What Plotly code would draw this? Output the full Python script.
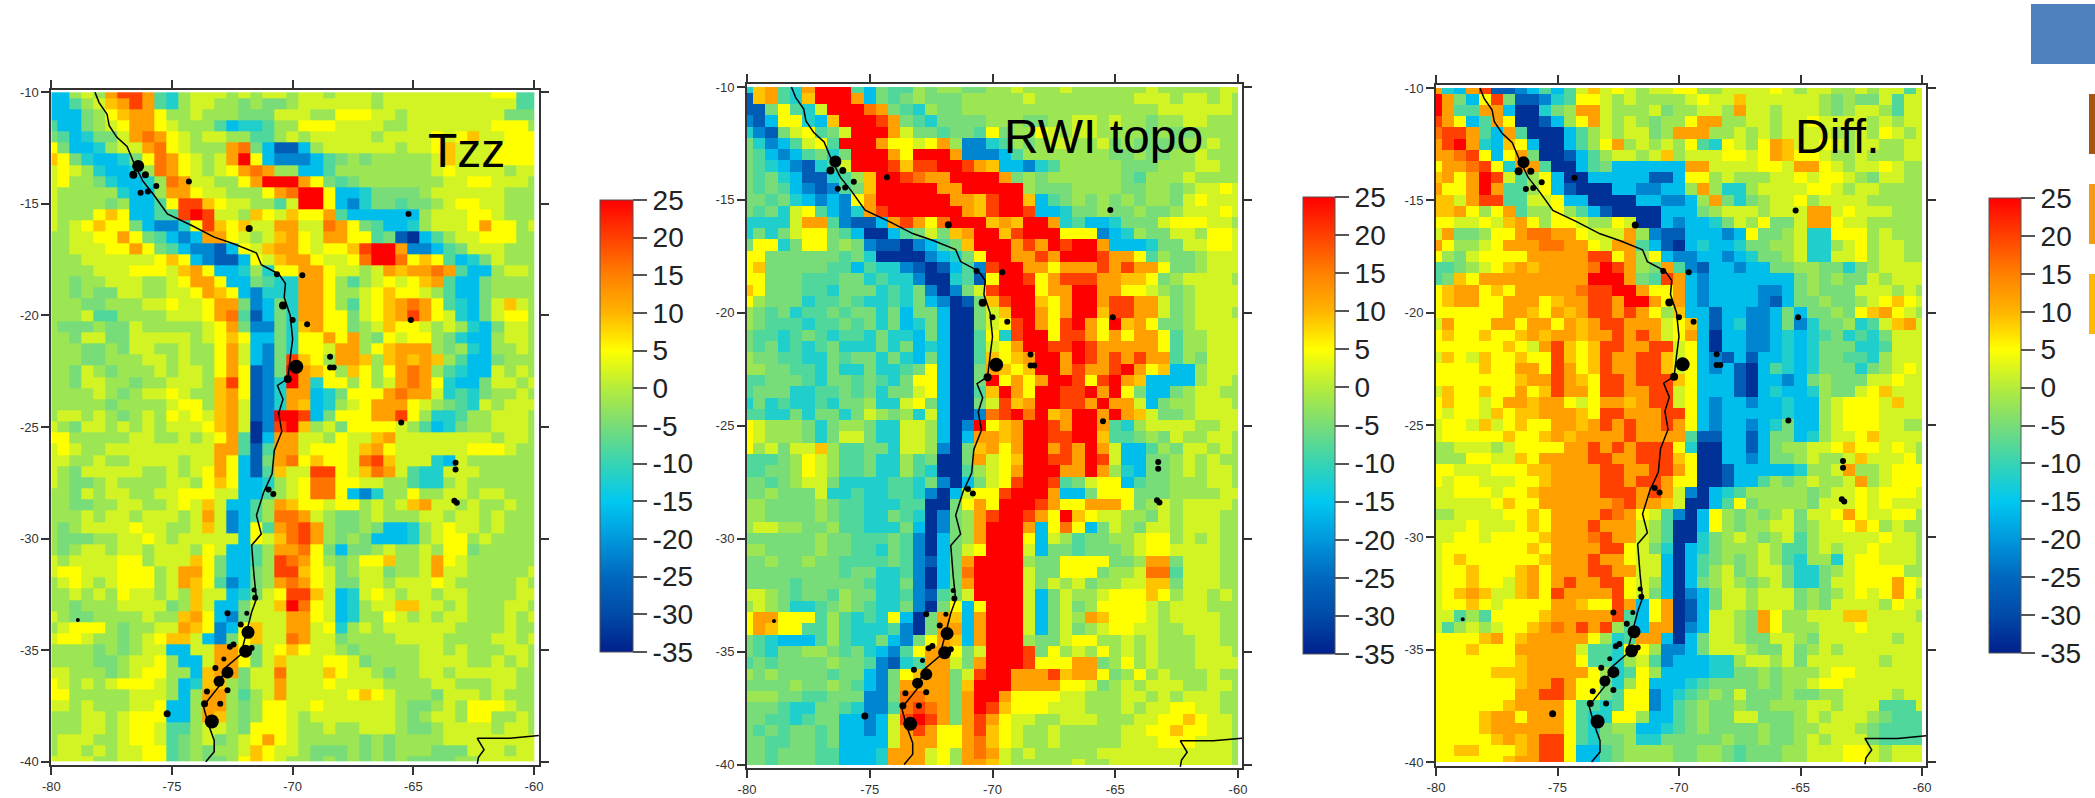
import plotly.graph_objects as go

W, H = 2095, 798
CODE = {'D':-33,'B':-27,'b':-22,'C':-16,'c':-12,'t':-8,'g':-5,'.':-2,'y':2,'Y':5,'o':9,'O':12,'r':16,'R':20,'X':25}

TZZ_ROWS = [
"CC.y.ORROt c.yyy.y.yy .yy.yyy.yy yyyyyyyYYtt",
"CCt.yoOROt c.yy..g.gg .yyyyyy.yy yyyyyyyyytt",
"CCCg.YoOOY ..y...gggy yy..YYYyy. yyyyyyyyggg",
"tCCg.yYOOY y...tCcct. .YYYyyyy.. yyyyyyyYYY.",
"gtCcggyOrO Yy.yy..tt. y.yyyyy.yy yyYyYoyyYYY",
"YgCCc.yyOr Yy...OrgCB BC.yyyyyy. yyYoyyyYYYY",
"oYgcCCcgYr OYy.yOXYCb bbCtg.g... ..yoyyyYYYY",
"yYy.cCCc.r OYy.yYOrO. .CCt...... ..yYyyyy.yy",
"yY..gcCCc. rOyy..YOXX XOYgtg.... ...yyYYyyy.",
"y.....cCC. OOYyy...YO rXXYCCcggg g.yyyyyy...",
"y....g.CCt YRRoYyy..t yXXYCbcggt gg.yYYyy...",
"y...YoYCCt tRXRyy.oYy oYYOtCCCCC C.yyyYYy...",
"y.yYoYYgCb bcYRoYoyyO OyyrOYgtCC c.yyyYOYY.y",
"..yyYYOYgt CbCOOYy.yo OYyOOYYtgB DCt.yyYYY..",
"..yyyYYOYg tCbbBCYyoO OYyYYoRXXO bbCtgyyy...",
"...yyyyyyY oYCbBBCYyo OOYyyYrXXr YoYtCcgy...",
"....yyyYYY yoOYCCc.cY YOOYyy.yOo OOrOtCC.yy.",
"..g..yyy.. yYOOYCCgtc cOOY.t.yYy YoOtCCg....",
"..g.ggyy.. yyYOoYCbcc cOOY..yYoY Yy.tCCg....",
"...gg...yy YyyYOOgbCg cOOY.tyYoO rOYtcCgyoy.",
"...ytt.... yyyYOrtBCg cOOYYgyYoO ROYycCgyYY.",
".ggg.ggy.. ...yYOgbbg coOYYg.yoY Yy.y.cCgyy.",
"..gyyggyyy yy.yYoYCCg cYYOYO.gYy YY.gcCC.yy.",
"...gg.gyy. .y..YOyCbg cYYyOO.YoO OO.g.cC..y.",
"...gg...yy .y..YOyCbg RoY.OOo.oO oOo.tCCg...",
"..gy.g...y .yy.YOYBbg XOoY.oY.YO rO.tcCCy.y.",
"..gyy..g.. yyy.oRYBbc XOcYY.Y.yO rOYcCCgyy.y",
"....y.g.yy Yy..oOYBbc OOCcgYYYOr OOyctcg..y.",
".....g.... yYY.oOyBbc OoCc.yYOOO Yy.gtcy.yyy",
".yy.y.g.y. YyYyoOyBbX XRCgYYYOOR Y.cct..yyy.",
"y.gyy.y.y. yyyYoOyDbR Xo.ygYYYYy .tCcg..yyy.",
"YY.....yy. .y.yYOtDCO Oyy.YyyoOy yyyyyyy.yy.",
"yYy..yyyyy yyyyOOtBtO OyYYYyoOYy yyyyyYYYy..",
"yy..y..yyy y.yyOYCBgO rYoYYyrRoy yycCy......",
"y.gyyyyy.. y.yYOYCBto yyRRYyorOy tccyyy.....",
"y.gg.y.... yy.YoYCCc. yYrrYYyy.. tcc.y......",
"..gy.yy..y yYYYyyCCt. yYrrYCbc.. Y..yy.yy...",
"..gg..yy.. yYyoyCCt.O oYYyYY.y.y oOyy.y..y..",
"...y.yy.yy y.yOybCt.r rOy.gg.y.. .yy.yy.y...",
".g.yyyyYyy ..yoybCYtO rRO.gg.gCC c.yYyy.y...",
".ggg..yyYy .yyyyyCYyo rRO.g.gCCC c.yYY.y....",
".g.yy.yy.y yy.YyCCt.O OrYgCgg.y. .y.YYg.....",
"y.yyyyYY.y yyoYgCCt.R rOY.g.YYo. .yOYy......",
"yYYyyyYYY. yOOYgCCg.R RoYyg.yyg. .yOyy.....y",
".yYy.yYYY. yOoYtbCg.O rOYyggyy.y yyYy.....y.",
"..y.y.Yyy. y.oyyCcgyY RRoyCcyYy. yy.yy....yy",
"..g...yyyy g.oyCCgyyo XrYyCc.yyo oyy.y...yy.",
"y.gg....y. .oOYCbgyyy OOYyCc..Yy .y.yy...y.y",
".yYYY.g..y yOoYbCYoyy OOyYc.y.yy yyyy....y..",
"yYYy..g.yY ooyCbgYoyy rOyyg....y yyy....yy.y",
"....g.g.yy CCyyOOYgyY oYyy.g.... .yy.y...yy.",
"....gg.yyY .CCyOOYgyo yyyYYyg... .yyyy..y.y.",
"yy...g.yYY ..CoOOgyyr yyyoYyy.g. .yy.yyyyy..",
"Yy.y.yYYYy .Ccoo.gyyO yyyYyyyy.. ..yy...yy..",
"YY.....yyy .C.OO.t.yO yyyyyYoYy. ..gyyy.y...",
"yy.y...yyY CC.OO.g.YY yyYyyyyyy. gg.y.YYYy..",
"...yy.yYYY CC.Oo.g.YY y.yyyyyyy. g.yy.YY..y.",
"...yy.yYYy tt.yy.gYYY y..y..yyy. gg.yyyy.yy.",
".yyy..yYYy tg.yg.yYOY y.....g.g. ...yyyyyyyy",
".yy.y.yyYY tg.g..yoYy y.ggg.g.g. ..gggyyy.yy",
"yyyy..yyYY tg.gg.YoYy ..g.g.g.g. gggg..yyyyy",
"yyyyyYYYy. tg.y.yYoYy yy.yy.y.yy y..y.yYyyyy",
]

RWI_ROWS = [
"coOtcOXXXt Cgtt.g..gg ..y...y... ...y.....yy.",
"BoOtcoXXXO Cgtg.ggg.. ...y...... ..yyy.yy.y.",
"BBgYtcyXXX rOgtc.gg.. .......... ....yyyyyy.",
"bBCYYcCoXX XROgtcgggg ...gg..yy. y..g..yy...",
"cbBgyYtgyX XXOyggtggt Yg..Yy.yy. ...g.gg....",
"gcbCtyYtXX XOYYyYO.bb ct.g.yy..y g.gggg..y..",
"gtCbCtgcgX XXOYXXXObb bCt....... gg.gg..y...",
"gtcCbBctyX XXRoRRXXRO oCCbct.... .ggg...yy..",
"gtgcCBBct. oXXRrOOXXX XOg.g..... .gt...y....",
"gtgtCbBbtg oXXXXXOOXX XXX.ggg... .gg..g.yyYy",
"ggtgcCbCbY OXXXXXXOOo RXXoCtg.g. g.g..gyYyyy",
"gtgcyYtCbc ORXXXXXXOo RXXRCCcgg. gg.gg.yyyYy",
"ccccyOOtbB BCOROYrXXX oOoXXOctCC cgggyYYYyy.",
"cgcgyYYgtC DDCtgygoOX XoRXXXYYYb Cc.ggyy.YYy",
"gYYcgYYg.g bBBDbCtgoX XXOROXRXXO CCCcggyyYYy",
"YYggggggtg cDDDDbCcgY XXOOROXXXR OOYt.gg.yyy",
"YogggggttC tccbBDBCtb RXXOOYOOOR OROOYgg.yyy",
"YYgggtttgg ctccbDDctB YXXRYORRRO OooYg.yyyy.",
"oYgggttcgg gctcgbDbgy RXXXYOOXXO OYYy.g.yyyy",
"Y.gggcttgt cctcgCbDBg oRXXoYOXXO RROOyg.yyyy",
".gtgcttgtg gcgCggCDDg yoXXOYOXXo RROOyg.yyy.",
".gtttcttgt gcgCcgCDDg yYRXOYRXOY XoOYgg.yyyy",
"gttctgtctt cgccCgCDDt YcRXXYRROY OYOOYt..yyy",
"gtgctctgcc cgcgCcCDDt yYOXXRRXRO OOOOYt..yyy",
".ggttccgtg gcgcCgCDDt oYoOXXOXRO ROROOt.gyyy",
"..ggttcgcc gcctgYCDDg OoYoXXOROO RXOYoCC.yyy",
"ttgggtcggt gtcgYYCDDg XYOYOXXRYR XOoCCCC.yy.",
"tgggccttgt gcggyYCDDt oXOYXXRRXO XYgCCg.yy..",
"cgctcctcgg .ccyYgCDDg yRoOXXRROX OOyCg..yyy.",
"ttccgcggcg y.g.cyCDDb rRXrXoOXXO XOoygg.yyyy",
"Yy...gcg.. gccyy.CDbX YoOXXROXXO tc.yyyy..yy",
"Yy...gcgyy gccyy.CDCO OoOXXRRXXo ttg.gy..yy.",
"Y.ygyyo.tt ggcyy.bDgo OYOXXOROXO yCCt.gyy.y.",
"tttg.Yy.tt gcc.tgDDgO yYoXXRROXR yCCgg.y.y..",
"ttgg.Yy.tt gcc.tcDDt. yYOXXXOOXO .cCgg.y.yy.",
"ggtg.yygcc ccttcgbDCg yYRXXRtgyY YCtgg...yy.",
"gg.gggycct ccttcbDCyY YRXXXOCCgY YYggg....yy",
"..gggg.gtt cccttDDgYO YXXXROYYOO OYg.y.yyyy.",
"..gggg.gtt ccgtcDbg.O RXXROYXoYy y..gy.yyy..",
".yy..gg.tt cccgCDbg.O XXXOCYrYCg y.gyy.yyy..",
"gggggg.ggt ttgtbDCg.O XXXYCy.tgg ..yYY.y.y..",
"..gggg.ggt tcgtbDCgyY XXXyCggtgg g.yYYyyyy..",
"gg.gg.ggtt ttgtbBCgOX XXX.ggYYYY gg.OOgyyy..",
"ggggggggtg gcctbDCgrX XXXyggYYYg ..yrrtyyy..",
"ggggtggggg tccgbDCgOX XXXygy.yg. .yyoogyyy..",
"yy.gtggt.g gcctbBtgyX XXXyCgy..y YYYoY.yy.y.",
".y.gcctg.g tccgbDgYCY XXXyCgyg.Y YYYy.yyy...",
"YOOYYYt.tc tcYCDgOoCO XXXyCgy.Oo YYYy.yyyy..",
"YOoYYtt.tc cctbDgOOCO XXXyCgyg.y YYyy..yyy..",
"gtcCCCt.tc cgCbgYOoCO XXX.ggyYY. .y.y...yy..",
"gtcgg..gtg cCbtYOOYgy XXXRgY.y.Y .y.y...yyy.",
"tgtgggg.gg tbBctOOygO XXXRYYYOOg .Y.y...yyyy",
".g.ggggtgg CbgYoOOgyR XXOOORoOOY g.Y.y...y..",
"gggg.gg.gt CbgOOOOgoX XXOOOOYYyg .y.yyy..yy.",
"...ggttggg bbgrrOOgOX XOYYYYyy.. .yy.y.yyy..",
"gggtccggtc bbtrRrOgOX RoYYYyyy.. .y.yyYYyy..",
"ggttctggCC bCyRXROgOR OYyy..yyy. ..yyYYoYyy.",
"gtgtggtgCC bCyOROYYOR oYy..y.... .yyYYoYYyy.",
"ggttggtgCC CCyOOOYYOr oYy..y.... .yyyYYYyyy.",
"ggtgggttCC CcOOOyY.Or Oy.y.....y yyyyyyyyyy.",
"ggtgggttCC CcOOOyY.OO oy.....y.. yyyyyyyyyy.",
]

DIFF_ROWS = [
"OcCORBBbCt CtyoyYy.yy YY..yyyyYy .yy..y.yyty",
"XOgCYRgBBb ctYYy.y... .yYyyoyyyy yy.g.ggytyy",
"XOttOOCDDc g.OOy...yg ..yy.Oyy.y yy.g.yy.tyy",
"ROYCtOYDDB C.YOy.y.g. .YOO..yy.y yYyyyy.y.yy",
"rRROtCOtDD DCt.y.yyg. OOO..y.y.y yyy..y.Yy.y",
"ORXOcCoYCD DCt.YO.y.y .YtcYy.YOo yyYy.yy..yy",
"OOrRYCYOgD DBCt.yy.yo .yyyYYyYOo YYy..y...yy",
"YOOrRYcOOt DDCtgCCCCC COOyyyyYYy OOYy.yyYy..",
"oOYOXRyt.Y CDDCCCCCBB CYY.y...yy YyYYy.gyy..",
"OYYOXOtt.Y CBDDDCCbbC C.O.cc.yyy yYYy.yy....",
"ooyORRttyy YCCDDDDCCb bC.Ogcg.yy Y.yyyy.....",
"ooOY.YOt.. Y.tCBDDDDC CCg.yyy.yy yOOyYyyy...",
"YYyyYyoOY. YYy..YyDDC bCCcgy.Ygg yOOYyy.....",
"yOgg.YYOrr OOYyyyO.bB BCCCbCYgg. yccYYY.y...",
"OY..yYOOOr rOOYyOOtCB DCcCCcgg.. ycc.yY.yy..",
"Y.gyYYYYOO OOORRYO.YC bbCCbCcgg. yccyyY.yy..",
"ttg.yYoOoO OOOrXRO.gO tbBCCbCCgg ..ggcg.yyyy",
"tgoYOOOOOO OOOXXXOgtR OCbCCCCCCC g.g.ggy.yyy",
"YoOOYoYOOO OOrRRXXOYY OCbCCCCbbC g.gggyyy.y.",
"YoOOYYOOOY oOORROXXOY OCbCCCCbBC gg.gg.yYoYy",
"YYYYYYOOoY OoORROROY. oCCBCCbbCg Cgg.gYoOYy.",
"yOYYYOOYOO YOoORROOOy YoCBCcbbCg bcgg.ctyoOy",
"YoYYoYYoOo OOoOOROROy YOCDCCbbCc Cctgctcgyyy",
"YYYYYYoYyO RoYoRROORR yYCDCCbbCc Ccgggcctyyy",
"yoYyoYYoYY RoYoROORRo yYCbBCBCCc Ccggttc.yyy",
"YYYYoYYOOY ROYoROORRo yYCbCBDCtc Ccgggcg.yYy",
"YYYYYYYoOO ROoYRRORRR oYCCCBDCCb Cg.gggyyYyy",
"yoYYoYYOYo ROOYRROORR yYCCCBDCcC Cc.ggyYoyyy",
"YoYYyYOOoO OYyYOOoORR yYCbCCbCCc CC.yYYYyoyy",
"YyYYyoYooO OOoYRROOOR RYCbCCCCCc CC.yYYYyyyy",
"yYYyoyYoYY OOoOROROOR OYCbCCbCcg CC.yYYYyy..",
"yYYYYYoYYo OoOOOOROOO OtBBCCBCgg Cc.yyYoyyyy",
"..yyy.yYYY YOORORORRR YcDDCCBCg. .yyYoYYyYy.",
"...YYyyoYO OOORROORRR oYDDCCbCgg .y..yoyyyY.",
"YYyyyYYYoo OOOORROORR OYDDBCCCCC c..yO..yYYY",
"YyYYyyyYYo OOOORRORRO YYDDBCCt.g .y..yO.yYYY",
"yyYYYyYYoO OOOORRRORO ybDCct.... .g.yyYyYYYy",
"yyyyyYoYYO OOOOOrROOo yDDCtYg... .gyyyYyYyyy",
"..yyyyYYoY OOOORrOYyt bDCY.g.g.y gyyYOYyyYY.",
"yyyYyyyYoY OOOROOOy.t DDCY.g..yy g.yyYoY.y..",
"yyYYyYYYYo OOOrROOy.t DDcg.y.g.y t.yyyyyYyy.",
"yYYYYYYYoY OOOORRYygc DCcg...y.t t.y.yyYyyy.",
"yYoYYYYYYo OOOROOYyyC DCtg.g.y.t c..cyYYyyy.",
"yYYoYYYoOY OOORROOyyC DCt.yg.yyg ccg.yYYYY..",
"yYYoYYyoOY OROORRYy.C DCg.y.g.yg ccgyyYYYOYy",
"yYoOoyyoOY ROOOORYygC DbCgyy.yyy g.g.yYyYOY.",
"yYYoYyYYYY OOoYYROCYO DBCgyy.yyy g.gyyyy.Yyy",
"yyt.tYYYYo OOOOORtCYO DBCyy.gOY. .yyyooyyyy.",
"yt.y.yYYoO rOROR.tCOO DbCyy.gOY. ..yyyYyyyyy",
"YYYYoOYoOO OOOY.ctOOC DCgyy.ggyy .gyyyyyy.yy",
"YYYoYYYOOO OOyttcYY.b bCgyyy.ggy g.y.yyyyyyy",
"YYYYYYYoOO OOYttc.ytb CCCcc.yy.y gyyyyyy.yyy",
"YYYYYoooOO OOOY.ctY.C CCCccgg.g. ..yYYyyyyyy",
"YYYYYYYoOO ROYYgc.YCC Cctgggg.g. .yYYyyyyyyy",
"YYYYYYYOOR ROYYgtYYbC ctg.gyggg. gg..yyyy.yy",
"YYYYYYoOOO OYttctYYbC tg.gg.gg.. .yy.yyyttty",
"YYYYoOOYOO OYtccYY.CC tg.ggyyggg .y.yyy.gttt",
"YYYYoOOOOO OYtcg..CCc tg.gggg.gg ..yyy.gtttt",
"YYYYYoOoOR RYtcgg.ccg gggg.gg.gg .y.yyygtttt",
"YYooYYYoOR RYCCtg.... gg..gtggg. .yyyYYy.yyy",
"YYYYYYoOOR RYCCtg.... gg..gtggg. .yyyYYy.yyy",
]

CBAR_VALUES = [25, 20, 15, 10, 5, 0, -5, -10, -15, -20, -25, -30, -35]
CBAR_LABELS = ["25","20","15","10","5","0","-5","-10","-15","-20","-25","-30","-35"]
LON_TICKS = [-80, -75, -70, -65, -60]
LAT_TICKS = [-10, -15, -20, -25, -30, -35, -40]
LON_EDGES = [-80] + [-79.75 + 0.5 * i for i in range(40)] + [-60]
LAT_EDGES = [-10] + [-10.25 - 0.5 * j for j in range(60)] + [-40]

COAST_LON = [-78.19,-78.02,-77.69,-77.6,-77.28,-76.86,-76.58,-76.2,-75.75,-75.19,-74.18,-73.25,-72.42,-71.5,-71.3,-70.57,-70.3,-70.35,-70.1,-70.0,-70.1,-70.2,-70.63,-70.4,-70.58,-70.45,-70.76,-70.85,-71.2,-71.5,-71.3,-71.7,-71.6,-71.5,-71.7,-71.9,-72.15,-72.8,-73.07,-73.7,-73.5,-73.25,-73.25,-73.6]
COAST_LAT = [-10.0,-10.46,-10.98,-11.5,-12.02,-12.43,-13.16,-13.99,-14.6,-15.45,-15.97,-16.49,-16.8,-17.2,-17.73,-18.15,-18.57,-19.19,-20.0,-21.06,-21.9,-22.83,-23.14,-23.76,-24.39,-25.2,-26.05,-27.09,-27.92,-28.96,-29.8,-30.3,-31.66,-32.7,-33.3,-34.15,-35.2,-35.8,-36.65,-37.5,-38.3,-39.05,-39.55,-40.0]
ISLAND_LON = [-62.35,-62.3,-62.07,-62.2,-62.35,-62.0,-61.0,-59.8]
ISLAND_LAT = [-40.1,-39.8,-39.46,-39.2,-38.95,-38.95,-38.95,-38.83]
DOT_LON = [-76.4,-76.6,-76.1,-76.3,-76.0,-75.65,-74.3,-71.8,-65.2,-70.65,-69.6,-70.4,-70.0,-69.4,-65.1,-68.45,-68.45,-68.3,-69.85,-70.2,-65.5,-63.25,-63.25,-63.3,-63.2,-71.0,-70.8,-71.6,-71.55,-72.7,-78.9,-71.9,-72.15,-71.85,-72.6,-72.45,-71.95,-71.7,-72.85,-73.2,-72.7,-73.05,-73.55,-72.7,-73.65,-73.0,-73.35,-75.2]
DOT_LAT = [-13.3,-13.7,-13.7,-14.5,-14.45,-14.2,-14.0,-16.1,-15.45,-18.15,-18.2,-19.55,-20.2,-20.4,-20.2,-21.85,-22.33,-22.33,-22.3,-22.85,-24.8,-26.6,-26.9,-28.3,-28.4,-27.8,-28.0,-32.3,-32.65,-33.35,-33.65,-33.35,-33.85,-34.2,-34.85,-34.75,-35.05,-34.9,-35.4,-35.8,-36.0,-36.4,-36.85,-36.8,-37.4,-37.4,-38.2,-37.85]
DOT_SIZE = [12,8,7,6,6,6,6,7,6,6,6,8,6,6,6,6,6,6,14,8,6,6,6,6,6,6,6,5,6,6,4,5,6,13,6,6,13,6,5,6,12,11,6,6,7,6,14,7]

COLORSCALE = [[0.0,"#00208C"],[5/60,"#004AA8"],[10/60,"#0068BE"],[15/60,"#0098DC"],[20/60,"#00C8F0"],
              [25/60,"#36D4B4"],[30/60,"#78DC78"],[35/60,"#B4EC3C"],[40/60,"#FFFF00"],[45/60,"#FFB400"],
              [50/60,"#FF8000"],[55/60,"#FF4000"],[1.0,"#FF0000"]]

def decode(rows):
    out = []
    for r in rows:
        s = r.replace(" ", "")
        s = (s + s[-1] * 41)[:41]
        out.append([CODE[c] for c in s])
    while len(out) < 61:
        out.append(out[-1])
    return out[:61]

PANELS = [
    ("Tzz", TZZ_ROWS, (51.3,534,92.3,761.7), (539,89.5,765), (600,633,200.5,652), (466,150)),
    ("RWI topo", RWI_ROWS, (747,1238,87,764.5), (1242,84,768), (1303,1335,197,654), (1103,136)),
    ("Diff.", DIFF_ROWS, (1436,1922,88,762), (1926,84.5,766), (1989,2021,198.5,653), (1837,136)),
]

fig = go.Figure()
layout = dict(width=W, height=H, margin=dict(l=0,r=0,t=0,b=0,autoexpand=False), paper_bgcolor="white", plot_bgcolor="white",
              showlegend=False, font=dict(family="Liberation Sans"), shapes=[], annotations=[])
for n, (name, rows, box, frame, cb, lab) in enumerate(PANELS):
    sfx = "" if n == 0 else str(n + 1)
    x0, x60, y10, y40 = box
    fr, ft, fb = frame
    pxdeg = (x60 - x0) / 20
    pydeg = (y40 - y10) / 30
    xr = [-80, -60 + (fr - x60) / pxdeg]
    yr = [-40 - (fb - y40) / pydeg, -10 + (y10 - ft) / pydeg]
    fig.add_trace(go.Heatmap(x=LON_EDGES, y=LAT_EDGES, z=decode(rows), xaxis="x"+sfx, yaxis="y"+sfx,
        zmin=-35, zmax=25, colorscale=COLORSCALE, zsmooth=False, hoverinfo="skip",
        colorbar=dict(x=cb[0]/W, xanchor="left", xpad=0, ypad=0, y=1-cb[3]/H, yanchor="bottom",
                      len=(cb[3]-cb[2])/H, lenmode="fraction", thickness=cb[1]-cb[0], thicknessmode="pixels",
                      tickmode="array", tickvals=CBAR_VALUES, ticktext=CBAR_LABELS, ticks="outside", ticklen=14,
                      tickwidth=1.5, tickcolor="#555", outlinecolor="#555", outlinewidth=1,
                      tickfont=dict(size=28, color="#222", family="Liberation Sans"))))
    fig.add_trace(go.Scatter(x=COAST_LON, y=COAST_LAT, xaxis="x"+sfx, yaxis="y"+sfx, mode="lines",
                             line=dict(color="black", width=1.5), hoverinfo="skip"))
    fig.add_trace(go.Scatter(x=ISLAND_LON, y=ISLAND_LAT, xaxis="x"+sfx, yaxis="y"+sfx, mode="lines",
                             line=dict(color="black", width=1.5), hoverinfo="skip"))
    fig.add_trace(go.Scatter(x=DOT_LON, y=DOT_LAT, xaxis="x"+sfx, yaxis="y"+sfx, mode="markers",
                             marker=dict(color="black", size=DOT_SIZE, opacity=1, line=dict(width=0)), hoverinfo="skip"))
    axstyle = dict(showgrid=False, zeroline=False, showline=True, linecolor="#333", linewidth=2, mirror="ticks",
                   ticks="outside", ticklen=8, tickwidth=1.5, tickcolor="#333", tickmode="array", automargin=False,
                   tickfont=dict(size=13, color="#333", family="Liberation Sans"))
    layout["xaxis"+sfx] = dict(axstyle, domain=[x0/W, fr/W], range=xr, anchor="y"+sfx,
                               tickvals=LON_TICKS, ticktext=[str(v) for v in LON_TICKS])
    layout["yaxis"+sfx] = dict(axstyle, domain=[1-fb/H, 1-ft/H], range=yr, anchor="x"+sfx,
                               tickvals=LAT_TICKS, ticktext=[str(v) for v in LAT_TICKS])
    layout["annotations"].append(dict(text=name, x=lab[0]/W, y=1-lab[1]/H, xref="paper", yref="paper", showarrow=False,
                                      xanchor="center", yanchor="middle", font=dict(size=48, color="black", family="Liberation Sans")))

for (a, b, c, d, col) in [(2031,4,2095,64,"#4F81BD"),(2089,94,2095,154,"#A5570F"),(2089,184,2095,244,"#F79A0E"),(2089,274,2095,334,"#FFB900")]:
    layout["shapes"].append(dict(type="rect", xref="paper", yref="paper", x0=a/W, x1=c/W, y0=1-d/H, y1=1-b/H,
                                 fillcolor=col, line=dict(width=0), layer="below"))
fig.update_layout(**layout)
fig.write_html("out.html", config={"displayModeBar": False},
               post_script="document.body.style.margin='0';document.documentElement.style.overflow='hidden';")
